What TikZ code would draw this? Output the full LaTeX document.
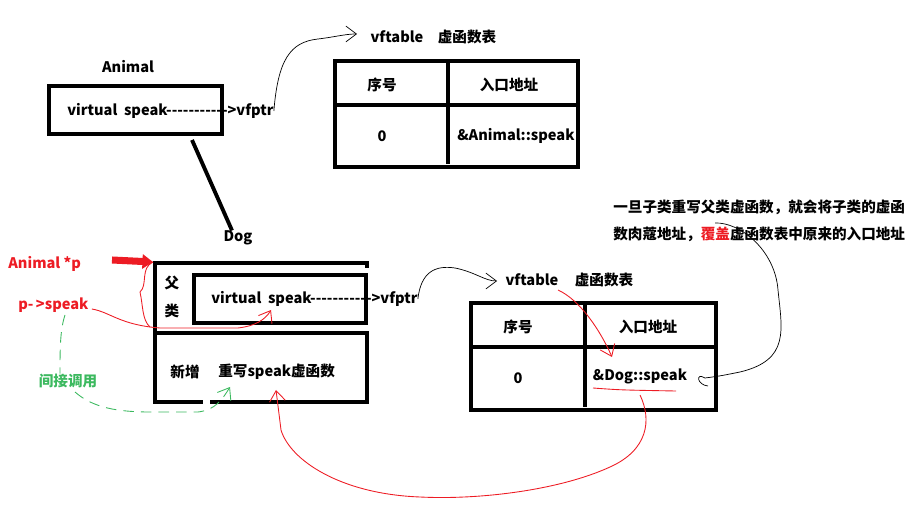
\documentclass[tikz,border=0pt]{standalone}
\usepackage{fontspec}
\setmainfont{Noto Sans CJK SC}
\usetikzlibrary{arrows.meta}
\definecolor{penred}{RGB}{237,28,36}
\definecolor{pengreen}{RGB}{60,185,95}

\begin{document}
\begin{tikzpicture}[x=0.02cm, y=-0.02cm,
  every node/.style={font=\bfseries\fontsize{8.3}{10}\selectfont, inner sep=0pt},
  box/.style={draw, line width=2.2pt},
  pen/.style={draw=penred, line width=0.5pt},
  barb/.style={-{Straight Barb[length=6pt, width=9pt]}}]
  \useasboundingbox (0,0) rectangle (918,519);
  % Animal
  \node (animal) at (128,67) {Animal};
  \draw[box] (49,86) rectangle (222,134);
  \node[anchor=west] (aspeak) at (67,111) {virtual\ \ speak{-}{-}{-}{-}{-}{-}{-}{-}{-}{-}{-}>vfptr};
  \node (dog) at (238,238) {Dog};
  \draw[line width=2.2pt] (192,140) -- (dog.north -| 232,218);
  % vftable of Animal
  \node (vt1) at (397,37) {vftable};
  \node (vt1cn) at (467,37) {虚函数表};
  \draw[box] (335,61) rectangle (578,167);
  \draw[box] (335,105) -- (578,105) (448,61) -- (448,164);
  \node (no1) at (382,85) {序号};
  \node (ad1) at (509,85) {入口地址};
  \node (zero1) at (382,136) {0};
  \node (aentry) at (516,136) {\&Animal::speak};
  \coordinate (tip1) at (357,34);
  \draw[thin, barb] (aspeak.east) .. controls (278,60) and (290,42) .. (318,39)
    .. controls (335,37) and (345,34) .. (tip1);
  % Dog
  \draw[box] (367,268) -- (367,263) -- (155,263) -- (155,402) -- (203,402)
    (210,402) -- (367,402) -- (367,333) -- (155,333);
  \draw[box] (194,275) rectangle (366,323);
  \node (fu) at (172,283) {父};
  \node (lei) at (172,311) {类};
  \node[anchor=west] (dspeak) at (211,299) {virtual\ \ speak{-}{-}{-}{-}{-}{-}{-}{-}{-}{-}{-}>vfptr};
  \node (xz) at (185,372) {新增};
  \node[anchor=west] (cx) at (218,372) {重写speak虚函数};
  % vftable of Dog
  \node (vt2) at (532,280) {vftable};
  \node (vt2cn) at (604,280) {虚函数表};
  \draw[box] (471,303) rectangle (716,410);
  \draw[box] (471,347) -- (716,347) (585,303) -- (585,407);
  \node (no2) at (518,327) {序号};
  \node (ad2) at (648,327) {入口地址};
  \node (zero2) at (518,378) {0};
  \node (dentry) at (640,376) {\&Dog::speak};
  \coordinate (tip2) at (497,281);
  \draw[thin, barb] (dspeak.east) .. controls (421,272) and (435,265) .. (455,268)
    .. controls (475,272) and (485,281) .. (tip2);
  % pointer
  \node[anchor=west, text=penred] (pa) at (8,264) {Animal *p};
  \node[anchor=west, text=penred] (ps) at (18,305) {p-\,>speak};
  \coordinate (ptail) at (112,260);
  \coordinate (phead) at (153,262);
  \draw[penred, line width=4pt, -{Triangle[length=6pt, width=8pt]}] (ptail) -- (phead);
  \draw[pen] (phead) .. controls (140,268) and (148,285) .. (140,292)
    .. controls (143,305) and (142,320) .. (150,327);
  \coordinate (tip3) at (271,310);
  \draw[pen, barb] (ps.east) ++(3,4) .. controls (110,312) and (120,325) .. (160,328)
    -- (238,328) .. controls (255,326) and (265,320) .. (tip3);
  % indirect call
  \node[text=pengreen] (jj) at (68,381) {间接调用};
  \coordinate (tip4) at (230,387);
  \draw[pengreen, line width=0.5pt, dash pattern=on 6pt off 4pt] (65,315)
    .. controls (60,330) and (60,350) .. (jj.north -| 60,370);
  \draw[pengreen, line width=0.5pt, dash pattern=on 6pt off 4pt, barb] (75,392)
    .. controls (90,405) and (110,412) .. (150,412) -- (198,412)
    .. controls (215,410) and (222,400) .. (tip4);
  % overriding
  \draw[pen] (593,388) .. controls (620,390) .. (676,391);
  \coordinate (tip5) at (276,390);
  \draw[pen, barb] (640,395) .. controls (652,420) and (648,450) .. (610,467)
    .. controls (560,490) and (480,500) .. (420,497)
    .. controls (340,494) and (290,460) .. (281,430) -- (tip5);
  \coordinate (tip6) at (612,357);
  \draw[pen, barb] (558,290) .. controls (580,300) and (600,330) .. (tip6);
  % note
  \node[anchor=west] (note1) at (613,207) {一旦子类重写父类虚函数，就会将子类的虚函};
  \node[anchor=west] (note2) at (613,234) {数肉蔻地址，\textcolor{penred}{覆盖}虚函数表中原来的入口地址};
  \coordinate (curl) at (705,378);
  \draw[thin] (715,223) .. controls (740,222) and (775,250) .. (778,290)
    .. controls (782,330) and (790,360) .. (740,372) .. controls (720,376) .. (curl)
    .. controls (695,372) and (697,385) .. (708,386);
\end{tikzpicture}
\end{document}
